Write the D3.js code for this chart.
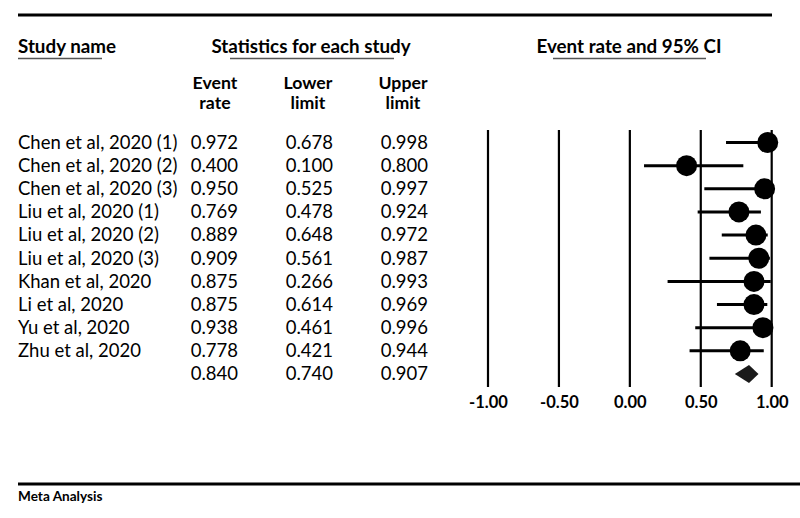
<!DOCTYPE html>
<html><head><meta charset="utf-8">
<script src="https://cdn.jsdelivr.net/npm/d3@7"></script>
<style>body{margin:0;background:#fff}svg{display:block}text{font-family:Lato,sans-serif;fill:#000}</style>
</head><body><svg id="c" width="800" height="518"></svg>
<script>
const studies = ["Chen et al, 2020 (1)","Chen et al, 2020 (2)","Chen et al, 2020 (3)","Liu et al, 2020 (1)","Liu et al, 2020 (2)","Liu et al, 2020 (3)","Khan et al, 2020","Li et al, 2020","Yu et al, 2020","Zhu et al, 2020"];
const eventRate = [0.972,0.400,0.950,0.769,0.889,0.909,0.875,0.875,0.938,0.778];
const lowerLimit = [0.678,0.100,0.525,0.478,0.648,0.561,0.266,0.614,0.461,0.421];
const upperLimit = [0.998,0.800,0.997,0.924,0.972,0.987,0.993,0.969,0.996,0.944];
const pooled = {rate:0.840, lower:0.740, upper:0.907};
const ticks = [-1.00,-0.50,0.00,0.50,1.00];

const svg = d3.select("#c");
const x = d3.scaleLinear().domain([-1,1]).range([488,771.7]);
const y = d3.scaleLinear().domain([0,10]).range([142.5,374]);
const fmt = d3.format(".3f");
const FS = 18.5;

// rules
svg.append("rect").attr("x",18).attr("y",13.5).attr("width",754).attr("height",3).attr("fill","#000");
svg.append("rect").attr("x",18).attr("y",482.5).attr("width",782).attr("height",3).attr("fill","#000");
svg.append("text").attr("x",18).attr("y",501).attr("font-size",13.6).attr("font-weight",700).text("Meta Analysis");

// headers
const hdr = [{t:"Study name",x:18,a:"start",u:[18,102]},{t:"Statistics for each study",x:311,a:"middle",u:[230,394]},{t:"Event rate and 95% CI",x:629,a:"middle",u:[553,706]}];
hdr.forEach(h=>{
  svg.append("text").attr("x",h.x).attr("y",52.5).attr("text-anchor",h.a).attr("font-size",18.8).attr("font-weight",700).text(h.t);
  svg.append("line").attr("x1",h.u[0]).attr("x2",h.u[1]).attr("y1",58.5).attr("y2",58.5).attr("stroke","#555").attr("stroke-width",1.5);
});
const colHdr = [["Event","rate",215],["Lower","limit",308],["Upper","limit",403]];
colHdr.forEach(c=>{
  svg.append("text").attr("x",c[2]).attr("y",89.3).attr("text-anchor","middle").attr("font-size",17.7).attr("font-weight",700).text(c[0]);
  svg.append("text").attr("x",c[2]).attr("y",108.6).attr("text-anchor","middle").attr("font-size",17.7).attr("font-weight",700).text(c[1]);
});

// table
studies.forEach((s,i)=>{
  const yy = y(i)+6.3;
  svg.append("text").attr("x",18).attr("y",yy).attr("font-size",FS).text(s);
  svg.append("text").attr("x",238).attr("y",yy).attr("text-anchor","end").attr("font-size",FS).text(fmt(eventRate[i]));
  svg.append("text").attr("x",333).attr("y",yy).attr("text-anchor","end").attr("font-size",FS).text(fmt(lowerLimit[i]));
  svg.append("text").attr("x",428).attr("y",yy).attr("text-anchor","end").attr("font-size",FS).text(fmt(upperLimit[i]));
});
[[238,pooled.rate],[333,pooled.lower],[428,pooled.upper]].forEach(p=>{
  svg.append("text").attr("x",p[0]).attr("y",y(10)+6.3).attr("text-anchor","end").attr("font-size",FS).text(fmt(p[1]));
});

// grid lines
svg.selectAll(".vl").data(ticks).enter().append("line").attr("x1",d=>x(d)).attr("x2",d=>x(d)).attr("y1",130).attr("y2",387).attr("stroke","#000").attr("stroke-width",2.2);
const ax = d3.axisBottom(x).tickValues(ticks).tickFormat(d=>d3.format(".2f")(d).replace("−","-")).tickSize(0).tickPadding(0);
const g = svg.append("g").attr("transform","translate(0,408)").call(ax);
g.select(".domain").remove();
g.selectAll("text").attr("font-size",16.5).attr("font-weight",700).attr("font-family","Lato,sans-serif").attr("fill","#000").attr("dy",0);

// CIs
studies.forEach((s,i)=>{
  svg.append("line").attr("x1",x(lowerLimit[i])).attr("x2",x(upperLimit[i])).attr("y1",y(i)).attr("y2",y(i)).attr("stroke","#000").attr("stroke-width",3);
  svg.append("circle").attr("cx",x(eventRate[i])).attr("cy",y(i)).attr("r",10.5).attr("fill","#000");
});
const yd = y(10);
svg.append("path").attr("d",`M${x(pooled.lower)},${yd}L${x(pooled.rate)},${yd-9}L${x(pooled.upper)},${yd}L${x(pooled.rate)},${yd+9}Z`).attr("fill","#1a1a1a");
</script></body></html>
